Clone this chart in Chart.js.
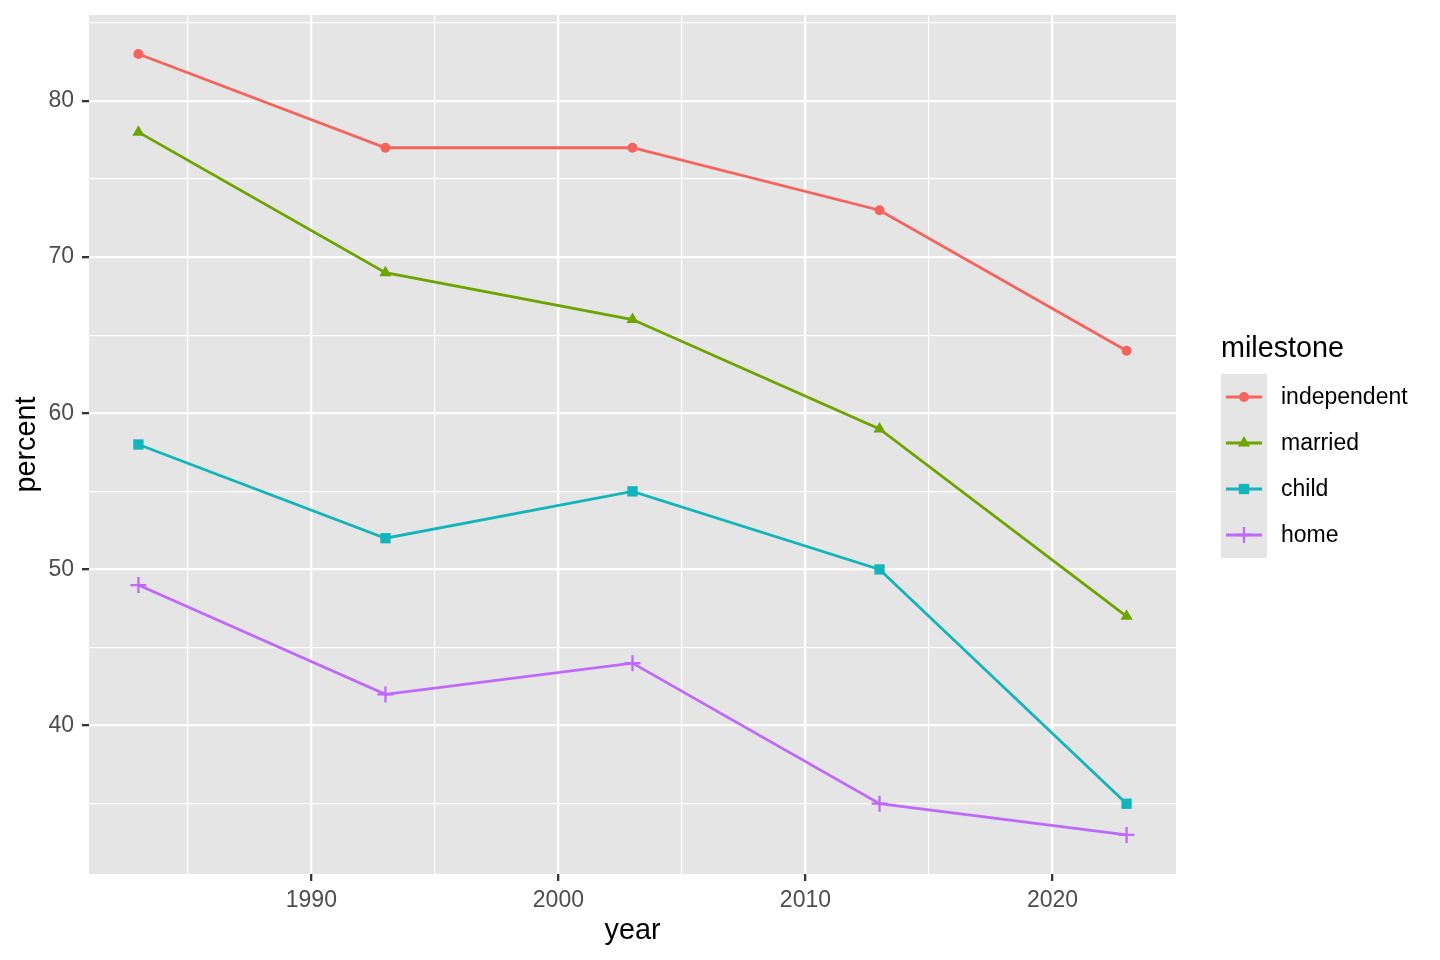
<!DOCTYPE html>
<html>
<head>
<meta charset="utf-8">
<script src="https://cdn.jsdelivr.net/npm/chart.js@4"></script>
<style>
  html, body { margin: 0; padding: 0; background: #ffffff; }
  canvas { display: block; }
</style>
</head>
<body>
<canvas id="c" width="1440" height="960" style="width:1440px;height:960px"></canvas>
<script>
const years = [1983, 1993, 2003, 2013, 2023];
const milestones = ['independent', 'married', 'child', 'home'];
const independent = [83, 77, 77, 73, 64];
const married = [78, 69, 66, 59, 47];
const child = [58, 52, 55, 50, 35];
const home = [49, 42, 44, 35, 33];
const xTicks = [1985, 1990, 1995, 2000, 2005, 2010, 2015, 2020];
const xMajor = [1990, 2000, 2010, 2020];
const yTicks = [35, 40, 45, 50, 55, 60, 65, 70, 75, 80, 85];
const yMajor = [40, 50, 60, 70, 80];

const seriesValues = [independent, married, child, home];
const colors = ['#F4645D', '#6EA400', '#14B4BC', '#BF68FA'];
const shapes = ['circle', 'triangle', 'rect', 'cross'];
const radii = [5, 7, 7.3, 8];

const FONT = '"Liberation Sans", Arial, Helvetica, sans-serif';

const datasets = milestones.map((name, i) => ({
  label: name,
  data: years.map((yr, j) => ({ x: yr, y: seriesValues[i][j] })),
  borderColor: colors[i],
  backgroundColor: colors[i],
  borderWidth: 2.8,
  pointStyle: shapes[i],
  pointRadius: radii[i],
  pointBorderWidth: shapes[i] === 'cross' ? 2.3 : 0,
  pointBorderColor: colors[i],
  pointBackgroundColor: colors[i],
  tension: 0,
  fill: false
}));

const panelBg = {
  id: 'panelBg',
  beforeDraw(chart) {
    const { ctx, chartArea: a } = chart;
    ctx.save();
    ctx.fillStyle = '#E5E5E5';
    ctx.fillRect(a.left, a.top, a.right - a.left, a.bottom - a.top);
    ctx.restore();
  }
};

const ggLegend = {
  id: 'ggLegend',
  afterDraw(chart) {
    const { ctx } = chart;
    const left = 1221;
    ctx.save();
    ctx.fillStyle = '#000000';
    ctx.font = '28.75px ' + FONT;
    ctx.textAlign = 'left';
    ctx.textBaseline = 'alphabetic';
    ctx.fillText('milestone', left, 357);
    const keyTop = 374, keyH = 46, keyW = 46;
    ctx.fillStyle = '#E5E5E5';
    ctx.fillRect(left, keyTop, keyW, keyH * chart.data.datasets.length);
    chart.data.datasets.forEach((ds, i) => {
      const cy = keyTop + keyH * i + keyH / 2;
      ctx.strokeStyle = ds.borderColor;
      ctx.lineWidth = 2.8;
      ctx.beginPath();
      ctx.moveTo(left + 5, cy);
      ctx.lineTo(left + 41, cy);
      ctx.stroke();
      ctx.fillStyle = ds.pointBackgroundColor;
      ctx.strokeStyle = ds.pointBorderColor;
      ctx.lineWidth = ds.pointBorderWidth;
      Chart.helpers.drawPoint(ctx, {
        pointStyle: ds.pointStyle,
        radius: ds.pointRadius,
        rotation: 0,
        borderWidth: ds.pointBorderWidth
      }, left + keyW / 2, cy);
      ctx.fillStyle = '#000000';
      ctx.font = '23px ' + FONT;
      ctx.textBaseline = 'middle';
      ctx.fillText(ds.label, 1281, cy + 1);
    });
    ctx.restore();
  }
};

new Chart(document.getElementById('c'), {
  type: 'line',
  data: { datasets },
  plugins: [panelBg, ggLegend],
  options: {
    responsive: false,
    animation: false,
    devicePixelRatio: 1,
    layout: { padding: { top: 15, right: 264, left: 0, bottom: 0 } },
    plugins: { legend: { display: false }, tooltip: { enabled: false } },
    scales: {
      x: {
        type: 'linear',
        min: 1981,
        max: 2025,
        afterBuildTicks(scale) { scale.ticks = xTicks.map(v => ({ value: v })); },
        afterFit(scale) { scale.height = 86; scale.paddingLeft = 0; scale.paddingRight = 0; },
        border: { display: false },
        grid: {
          color: '#FFFFFF',
          lineWidth: (c) => xMajor.includes(c.tick && c.tick.value) ? 2.3 : 1.15,
          tickColor: (c) => xMajor.includes(c.tick && c.tick.value) ? '#333333' : 'rgba(0,0,0,0)',
          tickLength: 7,
          tickWidth: 2.3,
          drawTicks: true
        },
        ticks: {
          autoSkip: false,
          maxRotation: 0,
          padding: 6,
          color: '#4D4D4D',
          font: { family: FONT, size: 23 },
          callback: (v) => xMajor.includes(v) ? String(v) : ''
        },
        title: {
          display: true,
          text: 'year',
          color: '#000000',
          font: { family: FONT, size: 28.75 },
          padding: { top: 0, bottom: 12 }
        }
      },
      y: {
        type: 'linear',
        min: 30.5,
        max: 85.5,
        afterBuildTicks(scale) { scale.ticks = yTicks.map(v => ({ value: v })); },
        afterFit(scale) { scale.width = 89; scale.paddingTop = 0; scale.paddingBottom = 0; },
        border: { display: false },
        grid: {
          color: '#FFFFFF',
          lineWidth: (c) => yMajor.includes(c.tick && c.tick.value) ? 2.3 : 1.15,
          tickColor: (c) => yMajor.includes(c.tick && c.tick.value) ? '#333333' : 'rgba(0,0,0,0)',
          tickLength: 7,
          tickWidth: 2.3,
          drawTicks: true
        },
        ticks: {
          autoSkip: false,
          padding: 8,
          color: '#4D4D4D',
          font: { family: FONT, size: 23 },
          callback: (v) => yMajor.includes(v) ? String(v) : ''
        },
        title: {
          display: true,
          text: 'percent',
          color: '#000000',
          font: { family: FONT, size: 28.75 },
          padding: { top: 10, bottom: 0 }
        }
      }
    }
  }
});
</script>
</body>
</html>
